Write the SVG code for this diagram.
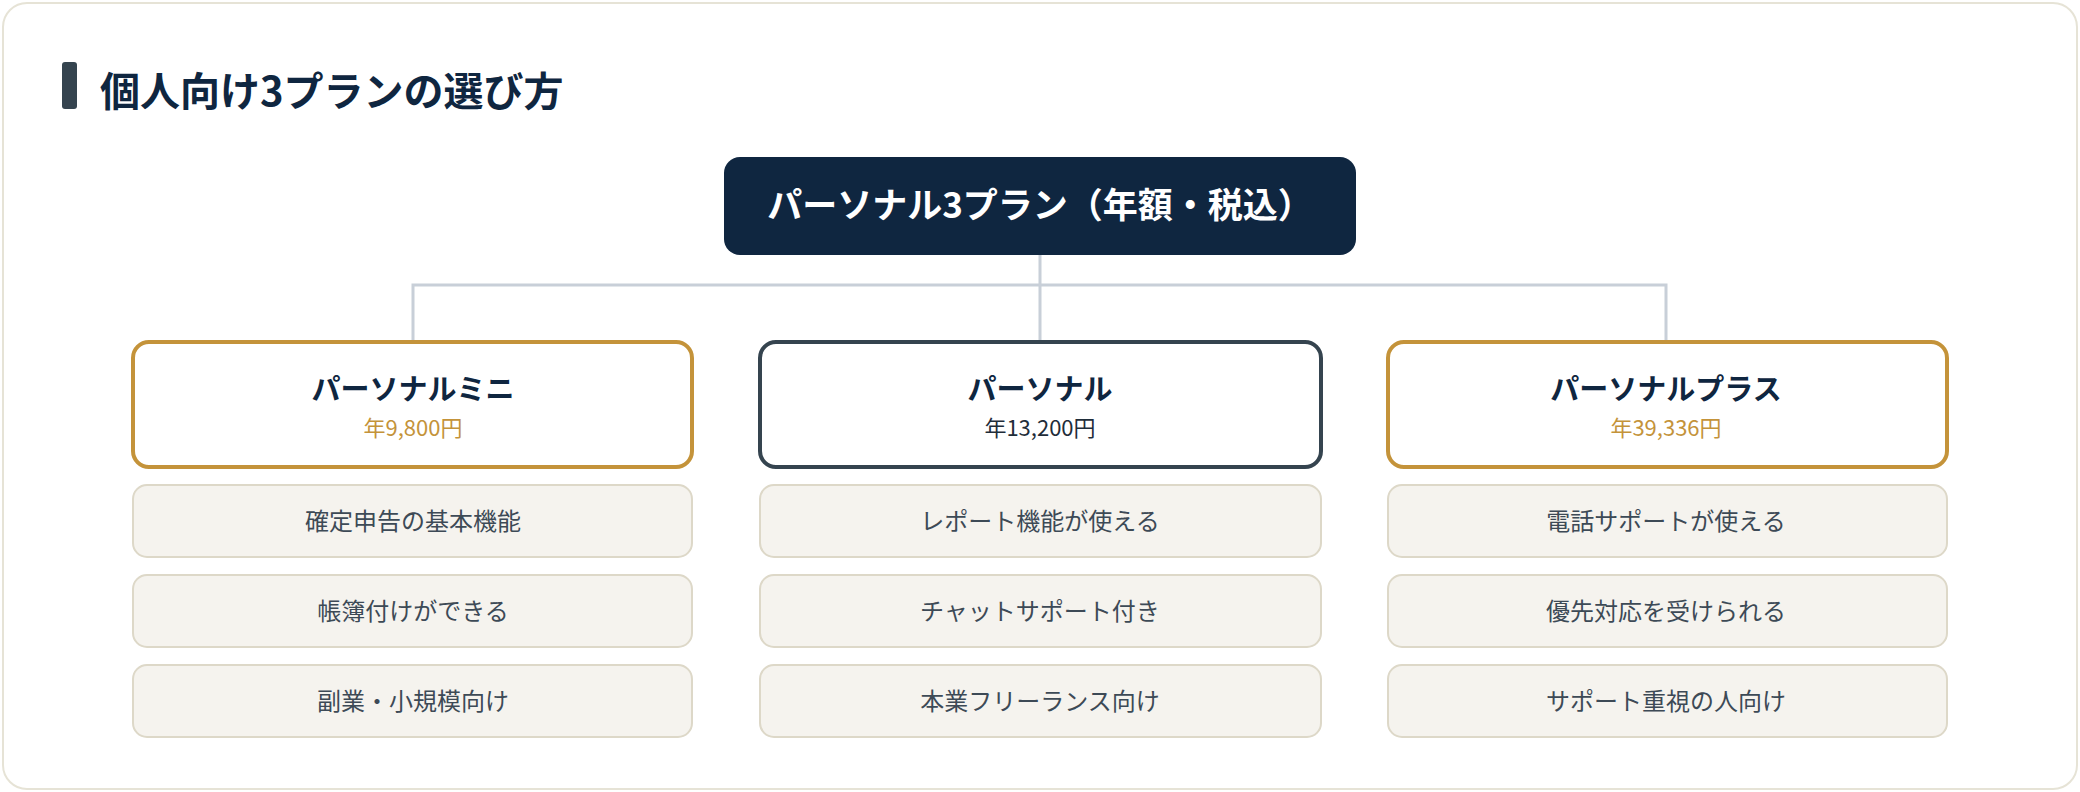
<svg xmlns="http://www.w3.org/2000/svg" width="2080" height="792" viewBox="0 0 2080 792">
<style>
text{font-family:"Noto Sans CJK JP","Noto Sans",sans-serif;text-anchor:middle}
.plan{fill:#fff;stroke-width:4}
.gold{stroke:#c4933a}
.dark{stroke:#35444f}
.name{font-size:29px;font-weight:700;fill:#0f2640}
.price{font-size:22px}
.feat rect{fill:#f5f3ee;stroke:#ddd8c8;stroke-width:2}
.feat text{font-size:24px;fill:#3d4a56}
</style>
<rect x="3" y="3" width="2074" height="786" rx="24" fill="#fff" stroke="#e6e3d6" stroke-width="2"/>
<g id="title">
<rect x="62" y="62" width="15" height="47" rx="3" fill="#35444f"/>
<text x="100" y="106" style="text-anchor:start;font-size:40px;font-weight:700;fill:#0f2640">個人向け3プランの選び方</text>
</g>
<g id="connectors" fill="none" stroke="#c8cfd8" stroke-width="3">
<path d="M1040 255V285M413 342V285H1666V342M1040 285V342"/>
</g>
<g id="root">
<rect x="724" y="157" width="632" height="98" rx="16" fill="#0f2640"/>
<text x="1040" y="218" style="font-size:35px;font-weight:700;fill:#fff">パーソナル3プラン（年額・税込）</text>
</g>
<g id="mini">
<rect class="plan gold" x="133" y="342" width="559" height="125" rx="16"/>
<text class="name" x="413" y="400">パーソナルミニ</text>
<text class="price" x="413" y="436" fill="#c4933a">年9,800円</text>
</g>
<g id="personal">
<rect class="plan dark" x="760" y="342" width="561" height="125" rx="16"/>
<text class="name" x="1040" y="400">パーソナル</text>
<text class="price" x="1040" y="436" fill="#1f2d3a">年13,200円</text>
</g>
<g id="plus">
<rect class="plan gold" x="1388" y="342" width="559" height="125" rx="16"/>
<text class="name" x="1666" y="400">パーソナルプラス</text>
<text class="price" x="1666" y="436" fill="#c4933a">年39,336円</text>
</g>
<g id="mini-f1" class="feat"><rect x="133" y="485" width="559" height="72" rx="14"/><text x="413" y="530">確定申告の基本機能</text></g>
<g id="mini-f2" class="feat"><rect x="133" y="575" width="559" height="72" rx="14"/><text x="413" y="620">帳簿付けができる</text></g>
<g id="mini-f3" class="feat"><rect x="133" y="665" width="559" height="72" rx="14"/><text x="413" y="710">副業・小規模向け</text></g>
<g id="per-f1" class="feat"><rect x="760" y="485" width="561" height="72" rx="14"/><text x="1040" y="530">レポート機能が使える</text></g>
<g id="per-f2" class="feat"><rect x="760" y="575" width="561" height="72" rx="14"/><text x="1040" y="620">チャットサポート付き</text></g>
<g id="per-f3" class="feat"><rect x="760" y="665" width="561" height="72" rx="14"/><text x="1040" y="710">本業フリーランス向け</text></g>
<g id="plus-f1" class="feat"><rect x="1388" y="485" width="559" height="72" rx="14"/><text x="1666" y="530">電話サポートが使える</text></g>
<g id="plus-f2" class="feat"><rect x="1388" y="575" width="559" height="72" rx="14"/><text x="1666" y="620">優先対応を受けられる</text></g>
<g id="plus-f3" class="feat"><rect x="1388" y="665" width="559" height="72" rx="14"/><text x="1666" y="710">サポート重視の人向け</text></g>
</svg>
